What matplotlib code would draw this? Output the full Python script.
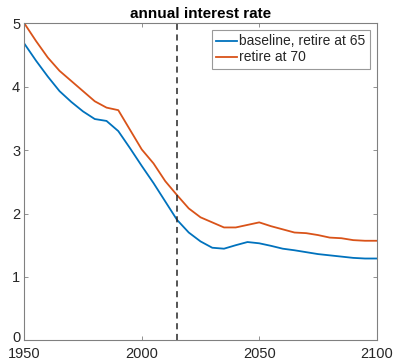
import numpy as np
import matplotlib.pyplot as plt
from matplotlib.transforms import ScaledTranslation

plt.rcParams['font.family'] = ['Liberation Sans', 'DejaVu Sans']

# years on a 5-year grid
years = np.arange(1950, 2101, 5)

# annual interest rate (%), baseline scenario: retire at 65
rate_65 = [4.68, 4.41, 4.16, 3.93, 3.76, 3.61, 3.49, 3.46, 3.30, 3.03,
           2.75, 2.48, 2.19, 1.90, 1.70, 1.56, 1.46, 1.445, 1.50, 1.55,
           1.53, 1.49, 1.445, 1.42, 1.39, 1.36, 1.34, 1.32, 1.30, 1.29, 1.29]

# annual interest rate (%), retire at 70
rate_70 = [5.00, 4.72, 4.46, 4.25, 4.09, 3.93, 3.77, 3.67, 3.63, 3.32,
           3.01, 2.79, 2.51, 2.29, 2.08, 1.94, 1.86, 1.78, 1.78, 1.82,
           1.86, 1.80, 1.75, 1.70, 1.69, 1.66, 1.62, 1.61, 1.58, 1.57, 1.57]

labels = ["baseline, retire at 65", "retire at 70"]
reform_year = 2015

fig = plt.figure(figsize=(3.94, 3.61), dpi=100)
ax = fig.add_axes([24.3 / 394, 1 - 340.3 / 361, 352.4 / 394, 317 / 361])

ax.plot(years, rate_65, color="#0072BD", lw=1.3, label=labels[0])
ax.plot(years, rate_70, color="#D95319", lw=1.3, label=labels[1])
ax.axvline(reform_year, color="#262626", ls=(0, (4, 3)), lw=1.1)

ax.set_xlim(1950, 2100)
ax.set_ylim(0, 5)
ax.set_xticks([1950, 2000, 2050, 2100])
ax.set_yticks([0, 1, 2, 3, 4, 5])
ax.tick_params(direction="in", top=True, right=True, length=3,
               width=0.6, color="#808080", labelsize=10.5,
               labelcolor="#262626", pad=3)
ax.tick_params(axis="x", pad=5)
for s in ax.spines.values():
    s.set_color("#808080")
    s.set_linewidth(0.8)

# lift the "0" a touch so it clears the 1950 label
fig.canvas.draw()
zero = ax.get_yticklabels()[0]
zero.set_transform(zero.get_transform() + ScaledTranslation(0, 2.5 / 72, fig.dpi_scale_trans))

ax.set_title("annual interest rate", fontsize=11, fontweight="bold",
             color="black", pad=4)

leg = ax.legend(loc="upper right", fontsize=10, frameon=True, fancybox=False,
                handlelength=1.5, handletextpad=0.15, borderpad=0.3,
                labelspacing=0.15, borderaxespad=0.5)
leg.get_frame().set_edgecolor("#808080")
leg.get_frame().set_linewidth(0.8)
for t in leg.get_texts():
    t.set_color("#262626")

fig.savefig("out.png", dpi=100)
